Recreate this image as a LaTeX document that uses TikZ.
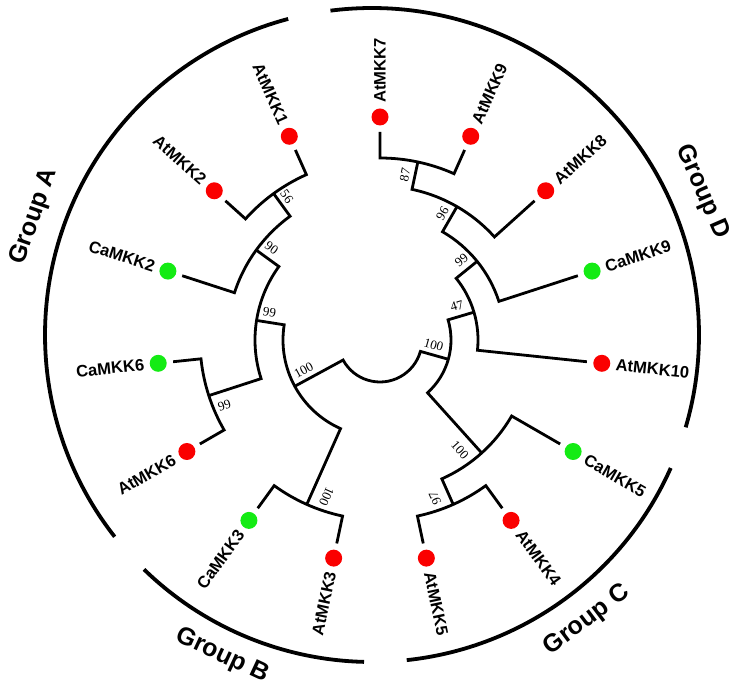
\documentclass[tikz,border=0pt]{standalone}
\usepackage{fontspec}
\setmainfont{Liberation Serif}
\newfontfamily\labfont{Liberation Sans}
\definecolor{dotred}{RGB}{250,0,0}
\definecolor{dotgreen}{RGB}{20,235,20}
\newcommand\tn[3]{\coordinate (#1) at (#2:#3pt);}
\newcommand\tin[3]{\coordinate (#1-in) at (#2:#3pt);}
\newcommand\leafR[4]{\coordinate (#1-end) at (#2:208pt);
  \node[#3] (#1) at (#2:223pt) {};
  \node[lab, anchor=west, rotate=#2] (#1-t) at (#2:237pt) {#4};}
\newcommand\leafL[4]{\coordinate (#1-end) at (#2:208pt);
  \node[#3] (#1) at (#2:223pt) {};
  \node[lab, anchor=east, rotate=#2-180] (#1-t) at (#2:237pt) {#4};}
\begin{document}
\begin{tikzpicture}[x=1pt,y=1pt,
  br/.style={line width=2.8pt, line join=miter},
  grp/.style={line width=3.8pt},
  leafdot/.style={circle, inner sep=0pt, minimum size=17pt},
  rdot/.style={leafdot, fill=dotred},
  gdot/.style={leafdot, fill=dotgreen},
  lab/.style={font=\labfont\bfseries\fontsize{16.6}{16.6}\selectfont, inner sep=0pt},
  boot/.style={font=\fontsize{13}{13}\selectfont, inner sep=0pt},
  grplab/.style={font=\labfont\bfseries\fontsize{25}{25}\selectfont, inner sep=0pt}]
\useasboundingbox (0,0) rectangle (736,688);
\begin{scope}[shift={(380,348)}]
  % leaves
  \leafR{AtMKK7}{90}{rdot}{AtMKK7}
  \leafR{AtMKK9}{66}{rdot}{AtMKK9}
  \leafR{AtMKK8}{42}{rdot}{AtMKK8}
  \leafR{CaMKK9}{18}{gdot}{CaMKK9}
  \leafR{AtMKK10}{-6}{rdot}{AtMKK10}
  \leafR{CaMKK5}{-30}{gdot}{CaMKK5}
  \leafR{AtMKK4}{-54}{rdot}{AtMKK4}
  \leafR{AtMKK5}{-78}{rdot}{AtMKK5}
  \leafL{AtMKK3}{258}{rdot}{AtMKK3}
  \leafL{CaMKK3}{234}{gdot}{CaMKK3}
  \leafL{AtMKK6}{210}{rdot}{AtMKK6}
  \leafL{CaMKK6}{186}{gdot}{CaMKK6}
  \leafL{CaMKK2}{162}{gdot}{CaMKK2}
  \leafL{AtMKK2}{138}{rdot}{AtMKK2}
  \leafL{AtMKK1}{114}{rdot}{AtMKK1}
  % internal nodes
  \tn{AB}{208.5}{97} \tn{CD}{-15.75}{71}
  \tn{T99}{171}{125} \tn{B100}{246}{180}
  \tn{N90}{144}{153} \tn{B99}{198}{180}
  \tn{N56}{126}{181}
  \tn{N47}{16.5}{98} \tn{C100}{-48}{152}
  \tn{D99}{39}{125} \tn{N96}{60}{154} \tn{N87}{78}{182} \tn{N97}{-66}{180}
  % bases on parent arcs
  \tin{AB}{208.5}{42} \tin{CD}{-15.75}{42}
  \tin{T99}{171}{97} \tin{B100}{246}{97}
  \tin{N90}{144}{125} \tin{B99}{198}{125}
  \tin{N56}{126}{153} \tin{CaMKK2}{162}{153}
  \tin{AtMKK1}{114}{181} \tin{AtMKK2}{138}{181}
  \tin{CaMKK6}{186}{180} \tin{AtMKK6}{210}{180}
  \tin{CaMKK3}{234}{180} \tin{AtMKK3}{258}{180}
  \tin{C100}{-48}{71} \tin{N47}{16.5}{71}
  \tin{AtMKK10}{-6}{98} \tin{D99}{39}{98}
  \tin{CaMKK9}{18}{125} \tin{N96}{60}{125}
  \tin{AtMKK8}{42}{154} \tin{N87}{78}{154}
  \tin{AtMKK9}{66}{182} \tin{AtMKK7}{90}{182}
  \tin{N97}{-66}{152} \tin{CaMKK5}{-30}{152}
  \tin{AtMKK5}{-78}{180} \tin{AtMKK4}{-54}{180}
  % branches
  \draw[br] (AB) -- (AB-in) arc[start angle=208.5, end angle=344.25, radius=42pt] -- (CD);
  \draw[br] (T99) -- (T99-in) arc[start angle=171, end angle=246, radius=97pt] -- (B100);
  \draw[br] (N90) -- (N90-in) arc[start angle=144, end angle=198, radius=125pt] -- (B99);
  \draw[br] (N56) -- (N56-in) arc[start angle=126, end angle=162, radius=153pt] -- (CaMKK2-end);
  \draw[br] (AtMKK1-end) -- (AtMKK1-in) arc[start angle=114, end angle=138, radius=181pt] -- (AtMKK2-end);
  \draw[br] (CaMKK6-end) -- (CaMKK6-in) arc[start angle=186, end angle=210, radius=180pt] -- (AtMKK6-end);
  \draw[br] (CaMKK3-end) -- (CaMKK3-in) arc[start angle=234, end angle=258, radius=180pt] -- (AtMKK3-end);
  \draw[br] (C100) -- (C100-in) arc[start angle=-48, end angle=16.5, radius=71pt] -- (N47);
  \draw[br] (AtMKK10-end) -- (AtMKK10-in) arc[start angle=-6, end angle=39, radius=98pt] -- (D99);
  \draw[br] (CaMKK9-end) -- (CaMKK9-in) arc[start angle=18, end angle=60, radius=125pt] -- (N96);
  \draw[br] (AtMKK8-end) -- (AtMKK8-in) arc[start angle=42, end angle=78, radius=154pt] -- (N87);
  \draw[br] (AtMKK9-end) -- (AtMKK9-in) arc[start angle=66, end angle=90, radius=182pt] -- (AtMKK7-end);
  \draw[br] (N97) -- (N97-in) arc[start angle=-66, end angle=-30, radius=152pt] -- (CaMKK5-end);
  \draw[br] (AtMKK5-end) -- (AtMKK5-in) arc[start angle=-78, end angle=-54, radius=180pt] -- (AtMKK4-end);
  % bootstrap values
  \node[boot, rotate=78] (bs87) at (81.4:167pt) {87};
  \node[boot, rotate=60] (bs96) at (63.7:141pt) {96};
  \node[boot, rotate=39] (bs99d) at (44.4:114pt) {99};
  \node[boot, rotate=16.5] (bs47) at (23.9:84pt) {47};
  \node[boot, rotate=-15.75] (bs100cd) at (-5.3:54pt) {100};
  \node[boot, rotate=-48] (bs100c) at (-54:136pt) {100};
  \node[boot, rotate=114] (bs97) at (-70.8:167.6pt) {97};
  \node[boot, rotate=-54] (bs56) at (123:171pt) {56};
  \node[boot, rotate=-36] (bs90) at (139.7:142pt) {90};
  \node[boot, rotate=-9] (bs99t) at (165.7:114pt) {99};
  \node[boot, rotate=28.5] (bs100ab) at (201.4:82pt) {100};
  \node[boot, rotate=18] (bs99b) at (202.7:168.7pt) {99};
  \node[boot, rotate=-114] (bs100b) at (251.2:165.5pt) {100};
\end{scope}
\begin{scope}[shift={(372,353)}]
  \draw[grp] (104.85:327pt) arc[start angle=104.85, end angle=218.1, radius=327pt];
  \draw[grp] (225.8:327pt) arc[start angle=225.8, end angle=268.6, radius=327pt];
  \draw[grp] (-83.9:327pt) arc[start angle=-83.9, end angle=-24, radius=327pt];
  \draw[grp] (-16.4:327pt) arc[start angle=-16.4, end angle=97.3, radius=327pt];
  \node[grplab, rotate=70.7] (gA) at (160.7:358pt) {Group A};
  \node[grplab, rotate=-25] (gB) at (245:354pt) {Group B};
  \node[grplab, rotate=37] (gC) at (-53:357pt) {Group C};
  \node[grplab, rotate=-66.6] (gD) at (23.4:360pt) {Group D};
\end{scope}
\end{tikzpicture}
\end{document}
